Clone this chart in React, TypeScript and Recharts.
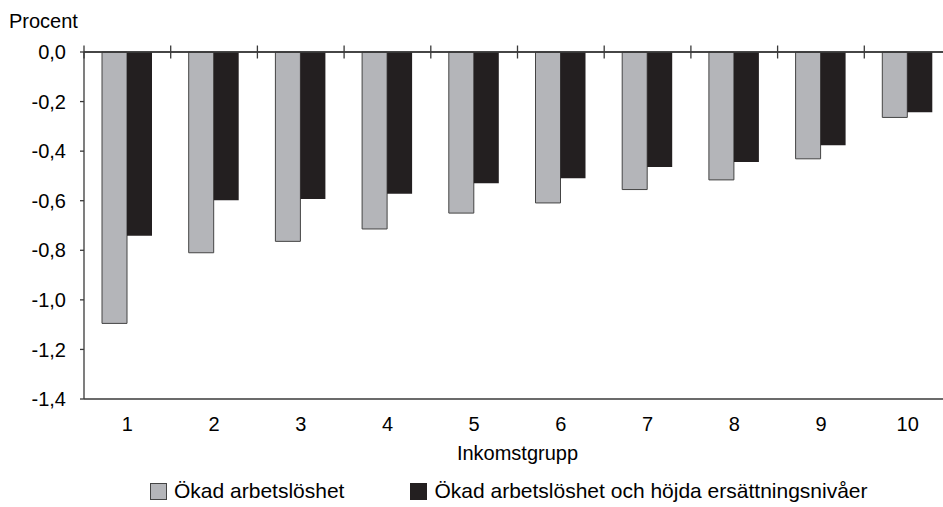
import { BarChart, Bar, XAxis, YAxis, Legend, ReferenceLine } from 'recharts'

const categories = ['1', '2', '3', '4', '5', '6', '7', '8', '9', '10']
const okadArbetsloshet = [-1.095, -0.81, -0.764, -0.714, -0.65, -0.609, -0.555, -0.516, -0.431, -0.264]
const hojdaNivaer = [-0.741, -0.598, -0.593, -0.572, -0.53, -0.509, -0.464, -0.444, -0.376, -0.243]
const seriesNames = ['Ökad arbetslöshet', 'Ökad arbetslöshet och höjda ersättningsnivåer']
const yTicks = [0, -0.2, -0.4, -0.6, -0.8, -1.0, -1.2, -1.4]

const data = categories.map((grupp, i) => ({
  grupp,
  okad: okadArbetsloshet[i],
  hojda: hojdaNivaer[i],
}))

const FONT = '"Liberation Sans", Arial, sans-serif'
const AXIS = '#3a3a3a'
const GRAY = '#b4b5b9'
const DARK = '#231f20'

const fmt = (v: number) => v.toFixed(1).replace('.', ',')

// tick marks across the zero line, at the category boundaries
function BoundaryTick(props: any) {
  const { x, y, payload, index } = props
  const half = payload?.offset ?? 0
  const last = index === categories.length - 1
  return (
    <g>
      <line x1={x - half} x2={x - half} y1={y - 6.5} y2={y + 6.5} stroke={AXIS} strokeWidth={1.3} />
      {last && <line x1={x + half} x2={x + half} y1={y - 6.5} y2={y + 6.5} stroke={AXIS} strokeWidth={1.3} />}
    </g>
  )
}

function LegendBox() {
  const colors = [GRAY, DARK]
  return (
    <div style={{ height: 24, display: 'flex', alignItems: 'center', paddingLeft: 150, fontFamily: FONT, fontSize: 21, color: '#000' }}>
      {seriesNames.map((name, i) => (
        <div key={name} style={{ display: 'flex', alignItems: 'center', marginRight: i === 0 ? 66 : 0 }}>
          <span style={{ width: 15, height: 15, background: colors[i], border: i === 0 ? '1px solid #444' : `1px solid ${DARK}`, marginRight: 7, display: 'inline-block' }} />
          <span>{name}</span>
        </div>
      ))}
    </div>
  )
}

export default function App() {
  return (
    <div style={{ position: 'absolute', left: 0, top: 0, width: 943, height: 507, overflow: 'hidden', background: '#fff' }}>
      <div style={{ position: 'absolute', left: 9, top: 11, fontFamily: FONT, fontSize: 20, lineHeight: '20px', color: '#000' }}>
        Procent
      </div>
      <BarChart width={960} height={507} data={data} barGap={0} margin={{ top: 50, right: 9, bottom: 4, left: 0 }}>
        <XAxis
          dataKey="grupp"
          height={80}
          tickLine={false}
          tickSize={0}
          tickMargin={18}
          axisLine={{ stroke: AXIS, strokeWidth: 1.3 }}
          tick={{ fill: '#000', fontSize: 20, fontFamily: FONT }}
          label={{ value: 'Inkomstgrupp', position: 'insideBottom', offset: 19, fill: '#000', fontSize: 20, fontFamily: FONT }}
        />
        <XAxis
          xAxisId="top"
          dataKey="grupp"
          orientation="top"
          height={2}
          tickLine={false}
          tickSize={0}
          tickMargin={0}
          interval={0}
          tick={<BoundaryTick />}
          axisLine={{ stroke: AXIS, strokeWidth: 1.3 }}
        />
        <YAxis
          width={84}
          domain={[-1.4, 0]}
          ticks={yTicks}
          interval={0}
          tickFormatter={fmt}
          tickSize={4}
          tickMargin={14}
          tickLine={{ stroke: AXIS, strokeWidth: 1.3 }}
          axisLine={{ stroke: AXIS, strokeWidth: 1.3 }}
          tick={{ fill: '#000', fontSize: 20, fontFamily: FONT }}
        />
        <Legend verticalAlign="bottom" height={24} content={() => <LegendBox />} wrapperStyle={{ left: 0, width: 943 }} />
        <Bar dataKey="okad" name={seriesNames[0]} fill={GRAY} stroke="#444" strokeWidth={1} barSize={25} isAnimationActive={false} />
        <Bar dataKey="hojda" name={seriesNames[1]} fill={DARK} barSize={25} isAnimationActive={false} />
        <ReferenceLine y={0} stroke={AXIS} strokeWidth={1.3} />
      </BarChart>
    </div>
  )
}
